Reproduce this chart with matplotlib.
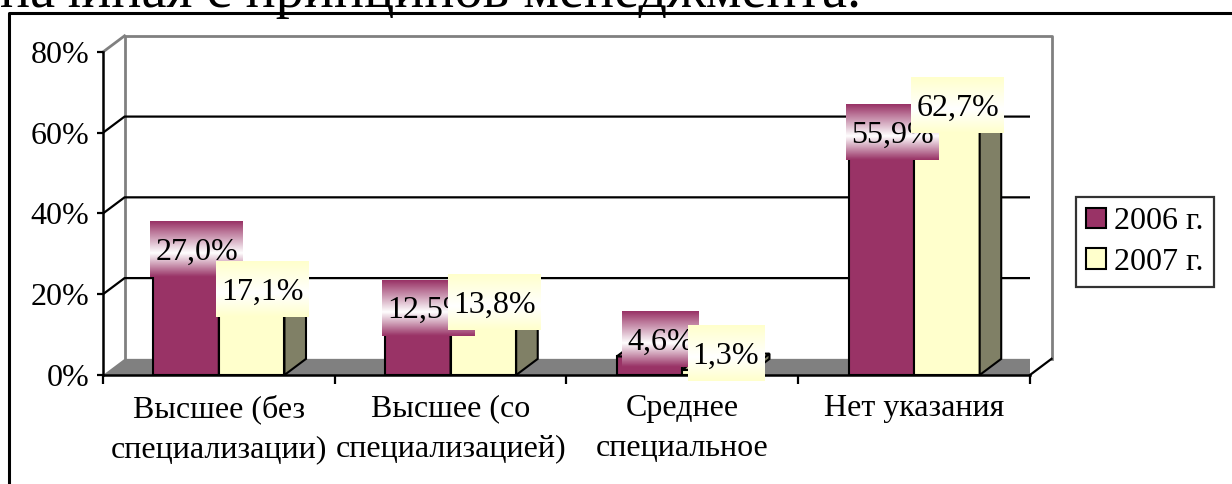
import numpy as np
import matplotlib
matplotlib.use("Agg")
import matplotlib.pyplot as plt
import matplotlib.transforms as mtransforms
from matplotlib.patches import Polygon, Patch
from matplotlib.lines import Line2D
from matplotlib.colors import LinearSegmentedColormap

plt.rcParams['font.family'] = ['Liberation Serif', 'DejaVu Serif']

categories = ["Высшее (без\nспециализации)", "Высшее (со\nспециализацией)",
              "Среднее\nспециальное", "Нет указания"]
years = ["2006 г.", "2007 г."]
vals_2006 = [27.0, 12.5, 4.6, 55.9]
vals_2007 = [17.1, 13.8, 1.3, 62.7]
yticks = [0, 20, 40, 60, 80]
caption = "начиная с принципов менеджмента."

face = ["#993366", "#FFFFCC"]
side = ["#4d1a33", "#808066"]
top = ["#b85c8a", "#e6e6b8"]

DX, DY = 0.093, 4.0   # depth of the pseudo-3d box in data units
W = 0.283             # bar width
FS = 23

fig = plt.figure(figsize=(12.32, 4.84), dpi=100)
ax = fig.add_axes([0.0836, 0.2252, 0.7524, 0.6674])
ax.set_xlim(0, 4)
ax.set_ylim(0, 80)

# floor, back wall and side wall
ax.add_patch(Polygon([(0, 0), (4, 0), (4 + DX, DY), (DX, DY)],
                     closed=True, fc='#808080', ec='none', zorder=1))
ax.plot([DX, DX, 4 + DX, 4 + DX], [DY, 80 + DY, 80 + DY, DY],
        color='#808080', lw=2, clip_on=False, zorder=1.5)
ax.plot([0, DX], [80, 80 + DY], color='#808080', lw=2, clip_on=False, zorder=1.5)
for v in yticks[1:-1]:
    ax.plot([0, DX, 4 + DX], [v, v + DY, v + DY], color='black', lw=1.6, zorder=1.5)
ax.plot([4, 4 + DX], [0, DY], color='black', lw=1.6, zorder=1.5, clip_on=False)

for s in ['top', 'right']:
    ax.spines[s].set_visible(False)
for s in ['left', 'bottom']:
    ax.spines[s].set_linewidth(1.8)

ax.set_yticks(yticks)
ax.set_yticklabels([f"{v}%" for v in yticks], fontsize=FS)
ax.tick_params(axis='y', length=4, width=1.6, pad=6)
ax.set_xticks(np.arange(5))
ax.set_xticklabels([])
ax.tick_params(axis='x', which='major', length=6.5, width=1.6)
ax.set_xticks(np.arange(4) + 0.5, minor=True)
ax.set_xticklabels(categories, minor=True, fontsize=FS, linespacing=1.5)
ax.tick_params(axis='x', which='minor', length=0, pad=14)

x = np.arange(len(categories))
series = [vals_2006, vals_2007]
for k, vals in enumerate(series):
    lefts = x + 0.5 - W + k * W
    ax.bar(lefts, vals, width=W, align='edge', color=face[k],
           edgecolor='black', lw=1.5, zorder=3 + k)
    for xl, v in zip(lefts, vals):
        xr = xl + W
        ax.add_patch(Polygon([(xr, 0), (xr + DX, DY), (xr + DX, v + DY), (xr, v)],
                             closed=True, fc=side[k], ec='black', lw=1.5, zorder=3 + k))
        ax.add_patch(Polygon([(xl, v), (xl + DX, v + DY), (xr + DX, v + DY), (xr, v)],
                             closed=True, fc=top[k], ec='black', lw=1.5, zorder=3 + k))

# value labels on gradient boxes
fig.canvas.draw()
renderer = fig.canvas.get_renderer()
shift = mtransforms.ScaledTranslation(0, -7.6 / 72, fig.dpi_scale_trans)
grad = np.linspace(0, 1, 120).reshape(-1, 1)
for i in range(len(categories)):
    for k, vals in enumerate(series):
        v = vals[i]
        cx = x[i] + 0.5 - W + k * W + W / 2 + DX / 2
        cy = v + 4.2
        t = ax.text(cx, cy, f"{v:.1f}%".replace('.', ','), ha='center', va='baseline',
                    fontsize=FS, transform=ax.transData + shift, zorder=11 + 2 * k)
        bb = t.get_window_extent(renderer)
        px, py = ax.transData.transform((cx, cy))
        hw, hh = bb.width / 2 + 5, 28
        (x0, y0), (x1, y1) = ax.transData.inverted().transform(
            [(px - hw, py - hh), (px + hw, py + hh)])
        cmap = LinearSegmentedColormap.from_list(
            f"lab{k}", [(0, face[k]), (0.57, 'white'), (1, face[k])])
        im = ax.imshow(grad, cmap=cmap, extent=(x0, x1, y0, y1), origin='upper',
                       aspect='auto', interpolation='bilinear', zorder=10 + 2 * k)
        im.set_clip_on(False)

ax.set_xlim(0, 4)
ax.set_ylim(0, 80)

handles = [Patch(facecolor=face[k], edgecolor='black', lw=1.5) for k in range(2)]
leg = fig.legend(handles, years, loc='center', bbox_to_anchor=(0.9294, 0.5),
                 frameon=True, fancybox=False, edgecolor='black', fontsize=FS,
                 handlelength=0.62, handleheight=0.62, handletextpad=0.25,
                 labelspacing=0.36, borderpad=0.32)
leg.get_frame().set_linewidth(1.6)

# page frame and the line of text above it
fig.add_artist(Line2D([0.0069, 0.0069, 1.0], [0.0, 0.9731, 0.9731],
                      transform=fig.transFigure, color='black', lw=2.2))
fig.text(0.0, 0.9855, caption, fontsize=40.5, ha='left', va='baseline')

fig.savefig("out.png", dpi=100)
